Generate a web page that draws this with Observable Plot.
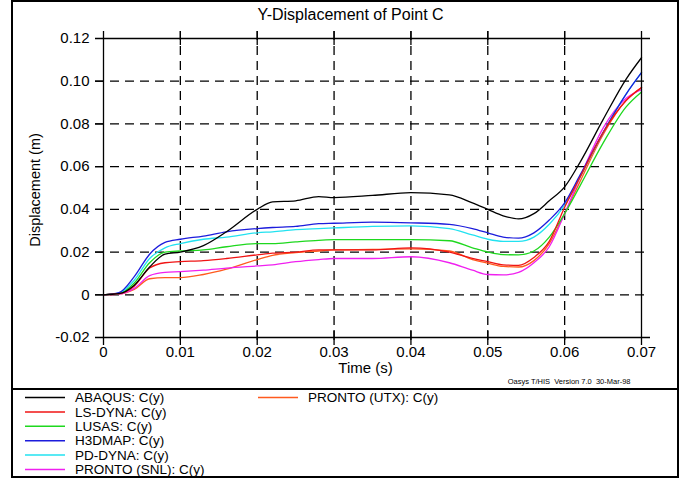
<!DOCTYPE html>
<html><head><meta charset="utf-8">
<script src="https://cdn.jsdelivr.net/npm/d3@7"></script>
<script src="https://cdn.jsdelivr.net/npm/@observablehq/plot@0.6"></script>
<style>
html,body{margin:0;padding:0;background:#fff;}
#wrap{position:relative;width:683px;height:478px;overflow:hidden;font-family:"Liberation Sans",Arial,sans-serif;}
#chart{position:absolute;left:0;top:0;}
#frame{position:absolute;left:11px;top:0;width:668px;height:478px;border:2px solid #000;box-sizing:border-box;pointer-events:none;}
#sep{position:absolute;left:11px;top:388px;width:668px;height:2px;background:#000;}
#legend{position:absolute;left:0;top:390px;}
svg text{white-space:pre;}
</style></head>
<body>
<div id="wrap"><div id="chart"></div><div id="sep"></div><div id="legend"></div><div id="frame"></div></div>
<script>
// ---- data ----
const time = [0, 0.002, 0.004, 0.006, 0.008, 0.010, 0.013, 0.016, 0.020, 0.022, 0.025, 0.028, 0.030, 0.035, 0.040, 0.045, 0.048, 0.050, 0.052, 0.054, 0.056, 0.058, 0.060, 0.062, 0.065, 0.068, 0.070];
const abaqus    = [0, 0.0005, 0.0045, 0.013, 0.019, 0.020, 0.023, 0.0295, 0.040, 0.0435, 0.044, 0.046, 0.0455, 0.0465, 0.0478, 0.0468, 0.043, 0.040, 0.037, 0.0355, 0.038, 0.044, 0.0505, 0.062, 0.082, 0.101, 0.111];
const lsDyna    = [0, 0.0005, 0.004, 0.0125, 0.015, 0.0155, 0.016, 0.017, 0.0187, 0.0195, 0.020, 0.021, 0.021, 0.021, 0.022, 0.020, 0.017, 0.0155, 0.014, 0.0138, 0.0175, 0.025, 0.041, 0.055, 0.076, 0.091, 0.097];
const lusas     = [0, 0.0005, 0.0055, 0.015, 0.020, 0.0205, 0.021, 0.0225, 0.024, 0.024, 0.0248, 0.0255, 0.0258, 0.0258, 0.0258, 0.0253, 0.022, 0.020, 0.0188, 0.0187, 0.0205, 0.027, 0.038, 0.051, 0.071, 0.088, 0.095];
const h3dmap    = [0, 0.001, 0.0085, 0.019, 0.0245, 0.026, 0.0275, 0.0295, 0.031, 0.0315, 0.032, 0.0333, 0.0335, 0.034, 0.0337, 0.033, 0.031, 0.029, 0.027, 0.0265, 0.029, 0.035, 0.043, 0.056, 0.076, 0.094, 0.104];
const pdDyna    = [0, 0.0008, 0.0068, 0.017, 0.022, 0.024, 0.026, 0.027, 0.029, 0.0295, 0.0305, 0.031, 0.0313, 0.032, 0.0323, 0.031, 0.028, 0.026, 0.025, 0.025, 0.027, 0.033, 0.042, 0.055, 0.076, 0.094, 0.104];
const prontoSnl = [0, 0.0003, 0.003, 0.009, 0.0105, 0.0108, 0.0115, 0.0125, 0.0135, 0.014, 0.0155, 0.0165, 0.017, 0.017, 0.0178, 0.015, 0.0115, 0.0095, 0.0093, 0.0105, 0.015, 0.0225, 0.038, 0.055, 0.078, 0.092, 0.096];
const prontoUtx = [0, 0.0003, 0.0025, 0.0075, 0.008, 0.008, 0.0095, 0.012, 0.0165, 0.0185, 0.0197, 0.0205, 0.021, 0.0212, 0.0215, 0.0205, 0.0165, 0.0148, 0.0133, 0.013, 0.016, 0.024, 0.038, 0.053, 0.075, 0.091, 0.097];

const seriesNames  = ["ABAQUS: C(y)", "LS-DYNA: C(y)", "LUSAS: C(y)", "H3DMAP: C(y)", "PD-DYNA: C(y)", "PRONTO (SNL): C(y)", "PRONTO (UTX): C(y)"];
const seriesValues = [abaqus, lsDyna, lusas, h3dmap, pdDyna, prontoSnl, prontoUtx];
const seriesColors = ["#000000", "#f01414", "#1ed81e", "#1c1cdc", "#22e2f0", "#f020f0", "#ff5a1e"];

const xTicks = [0, 0.01, 0.02, 0.03, 0.04, 0.05, 0.06, 0.07];
const xTickLabels = ["0", "0.01", "0.02", "0.03", "0.04", "0.05", "0.06", "0.07"];
const yTicks = [-0.02, 0, 0.02, 0.04, 0.06, 0.08, 0.10, 0.12];
const yTickLabels = ["-0.02", "0", "0.02", "0.04", "0.06", "0.08", "0.10", "0.12"];

const titleText = "Y-Displacement of Point C";
const xLabel = "Time (s)";
const yLabel = "Displacement (m)";
const footText = "Oasys T/HIS  Version 7.0  30-Mar-98";

// ---- build ----
const rows = [];
seriesValues.forEach((vals, s) => vals.forEach((v, i) => rows.push({t: time[i], v, name: seriesNames[s]})));
const drawOrder = [6, 5, 2, 4, 3, 1, 0];
const ordered = drawOrder.flatMap(s => rows.filter(r => r.name === seriesNames[s]));

const xMin = xTicks[0], xMax = xTicks[xTicks.length - 1];
const yMin = yTicks[0], yMax = yTicks[yTicks.length - 1];
const gridX = xTicks.slice(1, -1);
const gridY = yTicks.slice(1, -1);
const ink = {stroke: "#000", strokeWidth: 1.3};
const fontFamily = '"Liberation Sans", Arial, sans-serif';

const chart = Plot.plot({
  width: 683, height: 388,
  marginLeft: 103, marginRight: 42, marginTop: 38, marginBottom: 51,
  style: {fontFamily, fontSize: "15px", color: "#000", background: "transparent", overflow: "visible"},
  x: {domain: [xMin, xMax], ticks: xTicks, tickFormat: d => xTickLabels[xTicks.indexOf(d)], tickSize: 0, tickPadding: 9, label: null},
  y: {domain: [yMin, yMax], ticks: yTicks, tickFormat: d => yTickLabels[yTicks.indexOf(d)], tickSize: 0, tickPadding: 14, label: null},
  color: {domain: seriesNames, range: seriesColors},
  marks: [
    Plot.ruleY(gridY, {...ink, strokeDasharray: "9,6", insetLeft: -8, insetRight: -8}),
    Plot.ruleX(gridX, {...ink, strokeDasharray: "9,6", insetTop: -7, insetBottom: -8}),
    Plot.line(ordered, {x: "t", y: "v", z: "name", stroke: "name", strokeWidth: 1.3, curve: "monotone-x"}),
    Plot.ruleY([yMin, yMax], {...ink, insetLeft: -8, insetRight: -9}),
    Plot.ruleX([xMin, xMax], {...ink, insetTop: -7, insetBottom: -8}),
    Plot.ruleX(gridX, {...ink, y1: () => yMax, y2: () => yMax, insetTop: -7, insetBottom: -7}),
    Plot.ruleX(gridX, {...ink, y1: () => yMin, y2: () => yMin, insetTop: -7, insetBottom: -8}),
    Plot.ruleY(gridY, {...ink, x1: () => xMin, x2: () => xMin, insetLeft: -8}),
    Plot.text([titleText], {frameAnchor: "top", lineAnchor: "middle", dx: -22, dy: -24, fontSize: 16}),
    Plot.text([xLabel], {frameAnchor: "bottom", lineAnchor: "middle", dx: -7, dy: 31, fontSize: 15}),
    Plot.text([yLabel], {frameAnchor: "left", textAnchor: "middle", lineAnchor: "middle", dx: -68, dy: 2, rotate: -90, fontSize: 14.5}),
    Plot.text([footText], {frameAnchor: "bottom-right", textAnchor: "end", lineAnchor: "middle", dx: -11, dy: 44, fontSize: 7.5})
  ]
});
document.getElementById("chart").appendChild(chart);

// legend (SVG, below the plot)
const rowsPerCol = 6, rowStep = 14.4, colStep = 233, firstX = 25, firstY = 7.5;
const lsvg = d3.select("#legend").append("svg").attr("width", 683).attr("height", 88)
  .style("font-family", fontFamily).style("font-size", "13.5px");
const items = lsvg.selectAll("g").data(seriesNames).join("g")
  .attr("transform", (d, i) => `translate(${firstX + Math.floor(i / rowsPerCol) * colStep},${firstY + (i % rowsPerCol) * rowStep})`);
items.append("line").attr("x1", 0).attr("x2", 40).attr("y1", 0).attr("y2", 0)
  .attr("stroke", (d, i) => seriesColors[i]).attr("stroke-width", 1.5);
items.append("text").attr("x", 50).attr("dy", "0.35em").attr("fill", "#000").text(d => d);
</script>
</body></html>
